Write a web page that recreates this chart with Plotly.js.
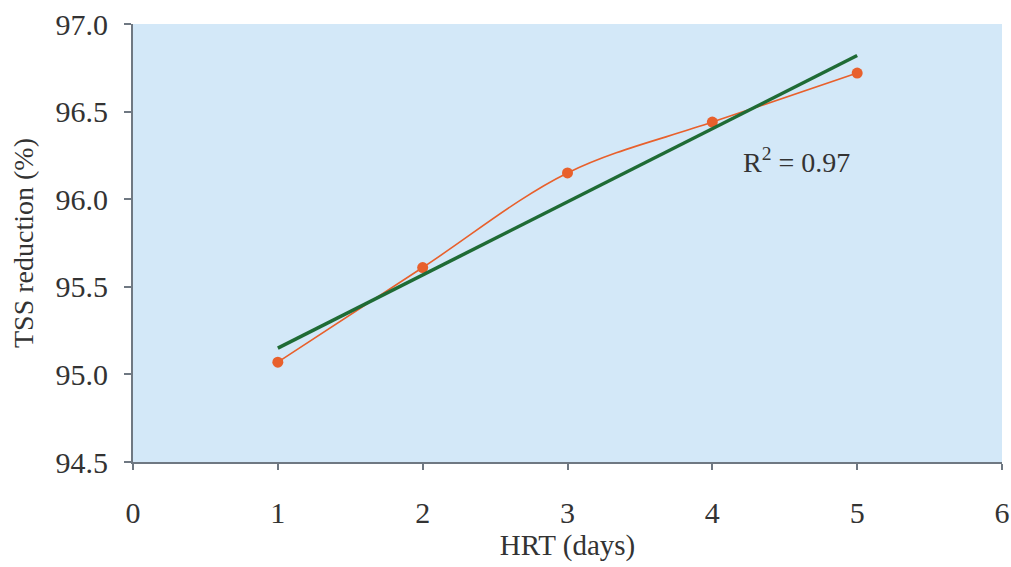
<!DOCTYPE html>
<html>
<head>
<meta charset="utf-8">
<script src="https://cdn.plot.ly/plotly-3.0.1.min.js"></script>
<style>html,body{margin:0;padding:0;background:#fff;}#chart{width:1011px;height:567px;}</style>
</head>
<body>
<div id="chart"></div>
<script>
const hrtDays = [1, 2, 3, 4, 5];
const tssReduction = [95.07, 95.61, 96.15, 96.44, 96.72];
const trendX = [1, 5];
const trendY = [95.15, 96.82];
const r2Label = 'R<sup>2</sup> = 0.97';
const xTickVals = [0, 1, 2, 3, 4, 5, 6];
const yTickVals = [94.5, 95.0, 95.5, 96.0, 96.5, 97.0];

const font = 'Liberation Serif';
const textColor = '#333333';
const axisColor = '#6f7882';

const traces = [
  {
    x: hrtDays, y: tssReduction, type: 'scatter', mode: 'lines+markers',
    line: {color: '#e8602c', width: 1.6, shape: 'spline', smoothing: 1},
    marker: {color: '#e8602c', size: 11},
    showlegend: false, hoverinfo: 'x+y'
  },
  {
    x: trendX, y: trendY, type: 'scatter', mode: 'lines',
    line: {color: '#1f6b35', width: 3.5},
    showlegend: false, hoverinfo: 'x+y'
  }
];

const layout = {
  width: 1011, height: 567,
  margin: {l: 133, r: 9, t: 24, b: 105},
  paper_bgcolor: '#ffffff',
  plot_bgcolor: '#d3e8f8',
  font: {family: font, color: textColor, size: 30},
  xaxis: {
    range: [0, 6], tickvals: xTickVals, ticktext: xTickVals.map(String),
    showgrid: false, zeroline: false, showline: true, linecolor: axisColor, linewidth: 2,
    ticks: 'outside', ticklen: 6, tickcolor: axisColor, tickwidth: 1.5,
    ticklabelstandoff: 17,
    tickfont: {family: font, size: 30, color: textColor},
    title: {text: 'HRT (days)', font: {family: font, size: 29, color: textColor}, standoff: 6}
  },
  yaxis: {
    range: [94.5, 97], tickvals: yTickVals, ticktext: yTickVals.map(v => v.toFixed(1)),
    showgrid: false, zeroline: false, showline: true, linecolor: axisColor, linewidth: 2,
    ticks: 'outside', ticklen: 7, tickcolor: axisColor, tickwidth: 1.5,
    ticklabelstandoff: 10,
    tickfont: {family: font, size: 30, color: textColor},
    title: {text: 'TSS reduction (%)', font: {family: font, size: 28, color: textColor}, standoff: 14}
  },
  annotations: [{
    x: 4.2, y: 96.22, xref: 'x', yref: 'y', text: r2Label, showarrow: false,
    xanchor: 'left', yanchor: 'middle',
    font: {family: font, size: 28, color: textColor}
  }]
};

Plotly.newPlot('chart', traces, layout, {displayModeBar: false, responsive: false});
</script>
</body>
</html>
